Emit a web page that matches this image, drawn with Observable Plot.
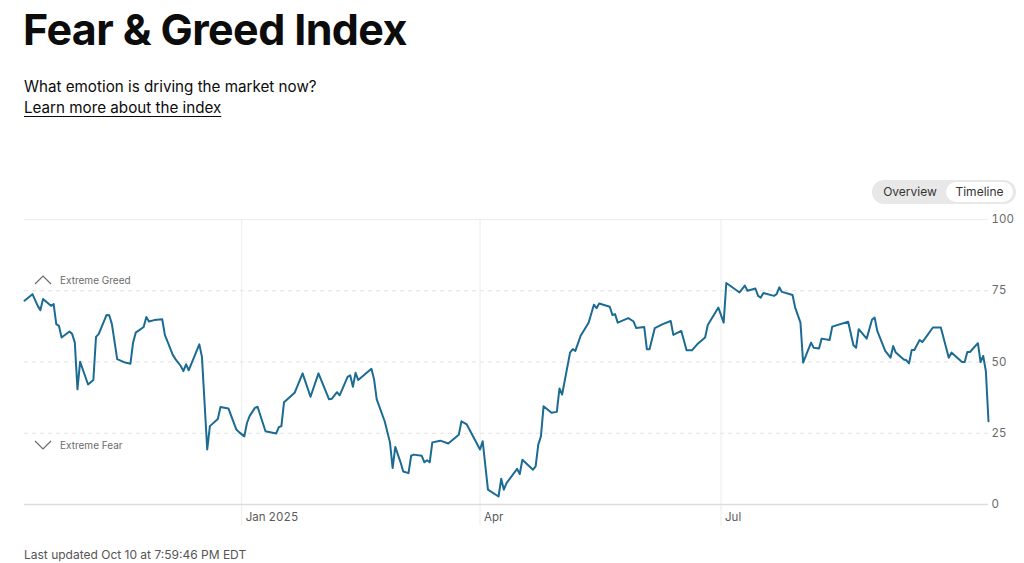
<!DOCTYPE html>
<html>
<head>
<meta charset="utf-8">
<script src="https://cdn.jsdelivr.net/npm/d3@7"></script>
<script src="https://cdn.jsdelivr.net/npm/@observablehq/plot@0.6"></script>
<style>
  html, body { margin: 0; padding: 0; background: #fff; }
  body { width: 1024px; height: 563px; position: relative; overflow: hidden; font-family: Inter, "Noto Sans", sans-serif; color: #0c0c0c; }
  #title { position: absolute; left: 23px; top: 3px; font-size: 43px; font-weight: 700; letter-spacing: -0.6px; margin: 0; }
  #sub { position: absolute; left: 24px; top: 77px; font-size: 15.2px; }
  #learn { position: absolute; left: 24px; top: 98px; font-size: 15.2px; text-decoration: underline; text-underline-offset: 3px; }
  #toggle { position: absolute; left: 872px; top: 180px; width: 144px; height: 24px; border-radius: 12px; background: #e8e8e8; font-size: 12px; color: #333; }
  #toggle span { position: absolute; top: 2px; height: 20px; line-height: 20px; text-align: center; border-radius: 10px; }
  #ov { left: 4px; width: 68px; }
  #tl { left: 74px; width: 67px; background: #fff; }
  .zone { position: absolute; left: 34px; font-size: 10px; color: #6b6b6b; display: flex; align-items: center; }
  .zone svg { margin-right: 8px; }
  #greed { top: 274px; }
  #fear { top: 439px; }
  #chart { position: absolute; left: 0; top: 206px; }
  #updated { position: absolute; left: 24px; top: 547px; font-size: 12px; color: #555; }
</style>
</head>
<body>
<h1 id="title">Fear &amp; Greed Index</h1>
<div id="sub">What emotion is driving the market now?</div>
<div id="learn">Learn more about the index</div>
<div id="toggle"><span id="ov">Overview</span><span id="tl">Timeline</span></div>
<div id="chart"></div>
<div class="zone" id="greed"><svg width="18" height="12" viewBox="0 0 18 12"><polyline points="1,10 9,2 17,10" fill="none" stroke="#6b6b6b" stroke-width="1.2"/></svg>Extreme Greed</div>
<div class="zone" id="fear"><svg width="18" height="12" viewBox="0 0 18 12"><polyline points="1,2 9,10 17,2" fill="none" stroke="#6b6b6b" stroke-width="1.2"/></svg>Extreme Fear</div>
<div id="updated">Last updated Oct 10 at 7:59:46 PM EDT</div>
<script>
const dates = [
"2024-10-11","2024-10-14","2024-10-16","2024-10-17","2024-10-18","2024-10-21","2024-10-22","2024-10-23","2024-10-24","2024-10-25",
"2024-10-28","2024-10-29","2024-10-30","2024-10-31","2024-11-01","2024-11-04","2024-11-06","2024-11-07","2024-11-08","2024-11-11",
"2024-11-12","2024-11-13","2024-11-15","2024-11-18","2024-11-20","2024-11-21","2024-11-22","2024-11-25","2024-11-26","2024-11-27",
"2024-11-29","2024-12-02","2024-12-03","2024-12-06","2024-12-07","2024-12-09","2024-12-10","2024-12-11","2024-12-12","2024-12-16",
"2024-12-17","2024-12-19","2024-12-20","2024-12-23","2024-12-24","2024-12-27","2024-12-30","2024-12-31","2025-01-02","2025-01-03",
"2025-01-04","2025-01-06","2025-01-07","2025-01-10","2025-01-14","2025-01-15","2025-01-16","2025-01-17","2025-01-21","2025-01-24",
"2025-01-27","2025-01-30","2025-02-03","2025-02-04","2025-02-06","2025-02-07","2025-02-10","2025-02-11","2025-02-12","2025-02-13",
"2025-02-14","2025-02-19","2025-02-20","2025-02-21","2025-02-24","2025-02-26","2025-02-27","2025-02-28","2025-03-02","2025-03-03",
"2025-03-05","2025-03-06","2025-03-07","2025-03-10","2025-03-11","2025-03-12","2025-03-13","2025-03-14","2025-03-17","2025-03-20",
"2025-03-24","2025-03-25","2025-03-27","2025-04-01","2025-04-02","2025-04-04","2025-04-08","2025-04-09","2025-04-10","2025-04-11",
"2025-04-15","2025-04-16","2025-04-17","2025-04-21","2025-04-22","2025-04-23","2025-04-24","2025-04-25","2025-04-28","2025-04-30",
"2025-05-01","2025-05-02","2025-05-05","2025-05-06","2025-05-07","2025-05-09","2025-05-12","2025-05-14","2025-05-15","2025-05-16",
"2025-05-20","2025-05-21","2025-05-22","2025-05-23","2025-05-27","2025-05-29","2025-05-30","2025-06-02","2025-06-03","2025-06-04",
"2025-06-06","2025-06-09","2025-06-12","2025-06-13","2025-06-16","2025-06-18","2025-06-20","2025-06-22","2025-06-25","2025-06-26",
"2025-06-30","2025-07-02","2025-07-03","2025-07-08","2025-07-10","2025-07-11","2025-07-14","2025-07-15","2025-07-16","2025-07-17",
"2025-07-21","2025-07-22","2025-07-23","2025-07-24","2025-07-28","2025-07-29","2025-07-31","2025-08-01","2025-08-04","2025-08-05",
"2025-08-07","2025-08-08","2025-08-11","2025-08-12","2025-08-18","2025-08-20","2025-08-21","2025-08-22","2025-08-25","2025-08-27",
"2025-08-28","2025-08-29","2025-09-01","2025-09-03","2025-09-04","2025-09-05","2025-09-08","2025-09-09","2025-09-10","2025-09-11",
"2025-09-12","2025-09-14","2025-09-15","2025-09-16","2025-09-19","2025-09-22","2025-09-25","2025-09-26","2025-09-30","2025-10-01",
"2025-10-02","2025-10-03","2025-10-06","2025-10-07","2025-10-08","2025-10-09","2025-10-10"
];
const values = [
71.5,73.8,69.7,68.2,72.1,69.7,70.3,63.3,62.7,58.6,
60.7,59.8,56.8,40.4,50.1,42.1,43.7,58.8,59.8,66.5,
66.4,63.3,51.0,49.8,49.4,56.8,60.3,62.3,65.8,64.2,
64.7,65.0,59.5,52.5,51.0,48.6,46.8,49.2,47.1,56.2,
51.8,19.3,27.5,30.0,34.2,33.7,26.3,25.4,23.9,28.6,
31.0,33.9,34.3,25.7,24.9,27.1,27.5,35.9,39.2,46.0,
37.8,46.0,36.9,37.1,39.4,38.3,44.8,45.3,41.3,46.2,
43.7,47.6,43.9,36.9,29.2,21.8,12.8,20.2,14.8,11.6,
11.0,17.1,17.5,17.1,14.8,15.5,14.8,21.8,22.4,21.4,
24.5,29.2,28.1,19.3,22.2,5.2,2.8,9.0,5.2,7.5,
12.5,10.7,15.7,12.2,13.4,21.0,23.9,34.5,32.2,32.5,
40.7,38.6,53.3,54.5,53.9,59.2,63.8,70.1,68.9,70.5,
69.4,66.5,66.8,63.8,65.4,64.2,61.9,62.3,54.5,54.5,
61.9,63.3,64.4,59.5,60.9,54.1,54.1,56.2,58.6,63.0,
69.1,63.8,77.7,74.4,76.8,75.0,75.8,73.2,72.6,74.2,
73.2,73.8,76.2,74.6,73.5,69.1,63.8,49.8,56.8,55.0,
54.7,58.2,57.7,62.4,64.1,55.9,55.0,61.5,58.2,64.8,
65.6,60.9,53.9,51.5,55.6,53.3,50.9,50.6,49.5,54.2,
54.2,57.7,57.0,58.2,62.1,62.1,51.5,53.3,50.0,50.0,
53.5,53.5,56.6,50.0,52.1,46.8,29.2
];
const xDomain = ["2024-10-11", "2025-10-10"];
const xTickDates = ["2025-01-01", "2025-04-01", "2025-07-01"];
const xTickLabels = ["Jan 2025", "Apr", "Jul"];
const yTicks = [0, 25, 50, 75, 100];
const dashedLevels = [25, 50, 75];

const parse = d3.utcParse("%Y-%m-%d");
const data = dates.map((d, i) => ({date: parse(d), value: values[i]}));
const ticks = xTickDates.map(parse);
const labelOf = new Map(ticks.map((t, i) => [+t, xTickLabels[i]]));

const chart = Plot.plot({
  width: 1024,
  height: 330,
  marginTop: 13,
  marginBottom: 32,
  marginLeft: 24,
  marginRight: 36,
  style: {fontFamily: "Inter, 'Noto Sans', sans-serif", fontSize: "11.5px", color: "#5a5a5a", background: "transparent"},
  x: {type: "utc", domain: xDomain.map(parse)},
  y: {domain: [0, 100]},
  marks: [
    Plot.ruleY([100], {stroke: "#ececec", strokeWidth: 1}),
    Plot.ruleY(dashedLevels, {stroke: "#e2e2e2", strokeDasharray: "4,4", strokeWidth: 1}),
    Plot.ruleX(ticks, {y1: 100, y2: -7.5, stroke: "#ececec", strokeWidth: 1, clip: false}),
    Plot.ruleY([0], {stroke: "#dcdcdc", strokeWidth: 1.5}),
    Plot.axisY(yTicks, {anchor: "right", tickSize: 0, tickPadding: 3, textAnchor: "start", fill: "#6a6a6a", label: null}),
    Plot.axisX(ticks, {anchor: "bottom", tickSize: 0, tickPadding: 8, textAnchor: "start", dx: 4, fill: "#5a5a5a", label: null, tickFormat: (d) => labelOf.get(+d)}),
    Plot.line(data, {x: "date", y: "value", stroke: "#1b6b93", strokeWidth: 2, strokeLinejoin: "round", curve: "linear"})
  ]
});
document.getElementById("chart").appendChild(chart);
</script>
</body>
</html>
